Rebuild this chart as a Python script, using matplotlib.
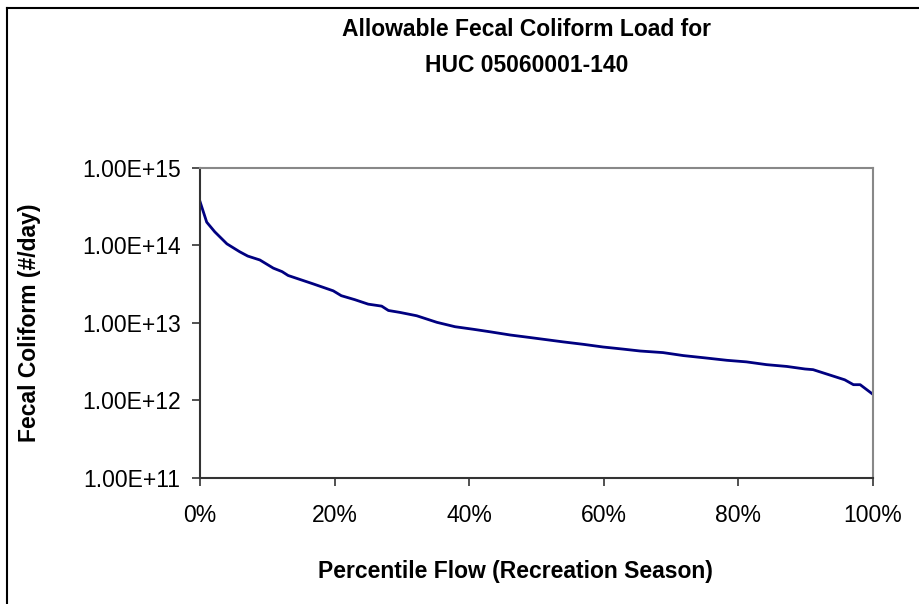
import numpy as np
import matplotlib.pyplot as plt
from matplotlib.ticker import FixedLocator, FuncFormatter, NullLocator

# Carga permisible de coliformes fecales vs percentil de caudal (temporada recreativa)
percentil = [0, 1, 2.2, 4, 5.9, 7.1, 8.9, 10.9, 12.2, 13.1, 16.8, 19.8, 21, 23, 25, 27, 28,
             29.7, 32.2, 35.2, 37.9, 40.6, 43.1, 46.1, 49, 54, 57, 59.9, 62.9, 65.4, 68.8,
             71.8, 75, 78.3, 81.2, 84.2, 87.2, 89.9, 91.1, 93.1, 95.8, 97.1, 98.1, 100]
carga = [3.7e14, 2.0e14, 1.5e14, 1.05e14, 8.3e13, 7.3e13, 6.5e13, 5.1e13, 4.6e13, 4.1e13,
         3.2e13, 2.6e13, 2.25e13, 2.0e13, 1.75e13, 1.65e13, 1.45e13, 1.37e13, 1.24e13,
         1.02e13, 8.95e12, 8.3e12, 7.7e12, 7.0e12, 6.5e12, 5.7e12, 5.3e12, 4.9e12, 4.6e12,
         4.35e12, 4.15e12, 3.8e12, 3.55e12, 3.3e12, 3.15e12, 2.9e12, 2.75e12, 2.55e12,
         2.5e12, 2.2e12, 1.85e12, 1.6e12, 1.6e12, 1.2e12]

titulo = ['Allowable Fecal Coliform Load for', 'HUC 05060001-140']
ticks_y = [1e11, 1e12, 1e13, 1e14, 1e15]
ticks_x = [0, 20, 40, 60, 80, 100]

plt.rcParams['font.family'] = ['Liberation Sans', 'DejaVu Sans']

fig = plt.figure(figsize=(9.19, 6.04), dpi=100)
ax = fig.add_axes([0.2176, 0.2086, 0.7323, 0.5133])

ax.plot(percentil, carga, color='#000080', linewidth=2)

ax.set_yscale('log')
ax.set_ylim(1e11, 1e15)
ax.set_xlim(0, 100)
ax.yaxis.set_major_locator(FixedLocator(ticks_y))
ax.yaxis.set_minor_locator(NullLocator())
ax.yaxis.set_major_formatter(FuncFormatter(lambda v, p: '1.00E+%d' % round(np.log10(v))))
ax.xaxis.set_major_locator(FixedLocator(ticks_x))
ax.xaxis.set_major_formatter(FuncFormatter(lambda v, p: '%d%%' % v))
ax.tick_params(labelsize=16.5, length=6, width=1.2, color='#333333', pad=8)
ax.tick_params(axis='x', pad=13)

ax.spines['left'].set_color('#333333')
ax.spines['bottom'].set_color('#333333')
ax.spines['top'].set_color('#888888')
ax.spines['right'].set_color('#888888')
for s in ax.spines.values():
    s.set_linewidth(1.5)

# título en dos líneas
fig.text(527 / 919, 1 - 29 / 604, titulo[0], ha='center', va='center', fontsize=16.5, fontweight='bold')
fig.text(527 / 919, 1 - 65 / 604, titulo[1], ha='center', va='center', fontsize=16.5, fontweight='bold')

ax.set_xlabel('Percentile Flow (Recreation Season)', fontsize=16.5, fontweight='bold')
ax.xaxis.set_label_coords((515 - 200) / 673, -(560 - 478) / 310)
ax.set_ylabel('Fecal Coliform (#/day)', fontsize=16.5, fontweight='bold')
ax.yaxis.set_label_coords(-(200 - 41) / 673, 0.5)

# marco del área del gráfico
fig.add_artist(plt.Line2D([0.0076, 0.0076], [0, 0.9868], color='black', linewidth=1.5))
fig.add_artist(plt.Line2D([0.0076, 1], [0.9868, 0.9868], color='black', linewidth=1.5))

plt.savefig('out.png', dpi=100)
